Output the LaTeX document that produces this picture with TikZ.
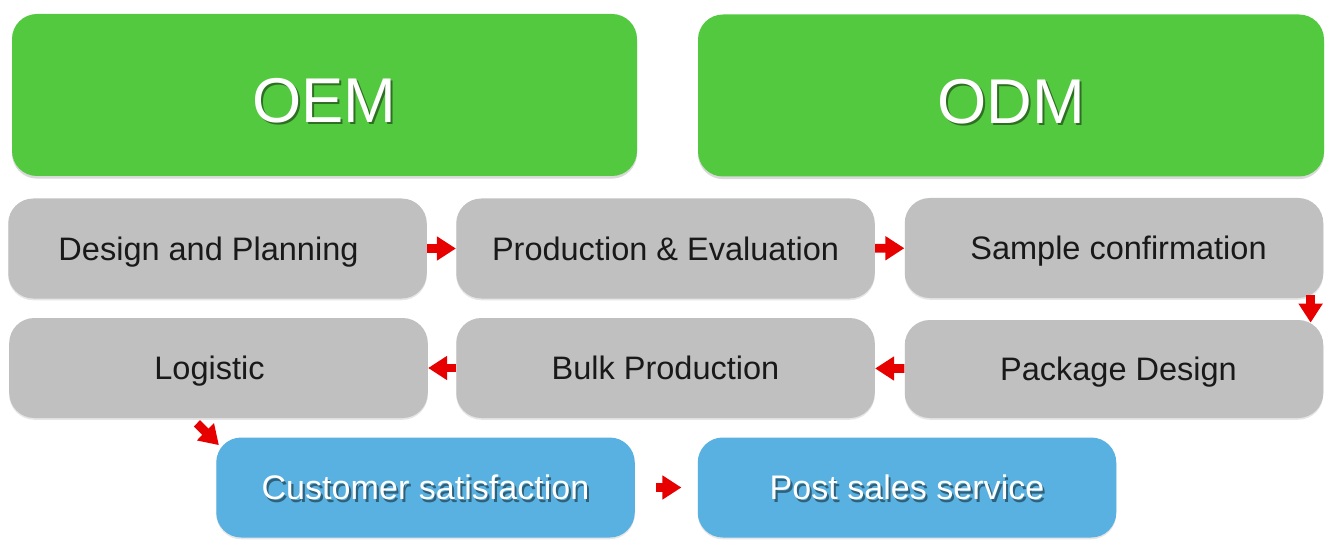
\documentclass[tikz,border=0pt]{standalone}
\usepackage{fontspec}
\setmainfont{Liberation Sans}
\usepackage{tikz}
\usetikzlibrary{arrows.meta, positioning, shadows}
\definecolor{oemgreen}{HTML}{53C93F}
\definecolor{stepgray}{HTML}{C0C0C0}
\definecolor{endblue}{HTML}{58B1E0}
\definecolor{flowred}{HTML}{E60000}
\colorlet{textdark}{black!90}
% white text with a soft drop shadow
\newcommand{\shtext}[2]{%
  \makebox[0pt][l]{\hspace{1.2pt}\raisebox{-1.2pt}{\textcolor{#1}{#2}}}#2%
}
\tikzset{
  headbox/.style={rounded corners=0.5cm, fill=oemgreen, draw=none,
    minimum width=12.5cm, minimum height=3.24cm, text=white,
    font=\fontsize{36}{40}\selectfont, text height=31.5pt, text depth=0pt,
    drop shadow={shadow xshift=0pt, shadow yshift=-1.5pt, opacity=0.3}},
  stepbox/.style={rounded corners=0.5cm, fill=stepgray, draw=none,
    minimum width=8.37cm, minimum height=2cm, text=textdark,
    font=\fontsize{18.5}{22}\selectfont, text height=13.6pt, text depth=0pt,
    drop shadow={shadow xshift=0pt, shadow yshift=-1pt, opacity=0.2}},
  leftcol/.style={execute at begin node=\hspace*{-0.36cm}},
  rightcol/.style={execute at begin node=\hspace*{0.18cm}},
  endbox/.style={stepbox, fill=endblue, text=white,
    font=\fontsize{19.4}{22}\selectfont, text height=14.2pt},
  flow/.style={draw=flowred, line width=5pt,
    -{Triangle[length=0.38cm, width=0.46cm]}}
}

\begin{document}
\begin{tikzpicture}
  \useasboundingbox (0,0) rectangle (26.7,-11.12);
  % top headings
  \node[headbox] (oem) at (6.49,-1.90) {\shtext{oemgreen!55!black}{OEM}};
  \node[headbox, minimum width=12.52cm] (odm) at (20.22,-1.91) {\shtext{oemgreen!55!black}{ODM}};

  % process steps
  \node[stepbox, leftcol] (design) at (4.35,-4.97) {Design and Planning};
  \node[stepbox] (production) at (13.31,-4.97) {Production \& Evaluation};
  \node[stepbox, rightcol] (sample) at (22.28,-4.96) {Sample confirmation};
  \node[stepbox, leftcol] (logistic) at (4.37,-7.36) {Logistic};
  \node[stepbox] (bulk) at (13.31,-7.36) {Bulk Production};
  \node[stepbox, rightcol, minimum height=1.96cm] (package) at (22.28,-7.38) {Package Design};

  % final steps
  \node[endbox] (customer) at (8.51,-9.75) {\shtext{endblue!55!black}{Customer satisfaction}};
  \node[endbox] (postsales) at (18.14,-9.75) {\shtext{endblue!55!black}{Post sales service}};

  % arrows
  \draw[flow] (design) -- (production);
  \draw[flow] (production) -- (sample);
  \draw[flow, shorten <=-0.06cm, shorten >=-0.06cm] ([xshift=-0.26cm]sample.south east) -- ([xshift=-0.26cm]package.north east);
  \draw[flow] (package) -- (bulk);
  \draw[flow] (bulk) -- (logistic);
  \draw[flow] ([shift={(3.76,-0.1)}]logistic.south west) -- ([shift={(0.06,-0.16)}]customer.north west);
  \draw[flow, shorten <=0.42cm, shorten >=0.32cm] (customer) -- (postsales);
\end{tikzpicture}
\end{document}
